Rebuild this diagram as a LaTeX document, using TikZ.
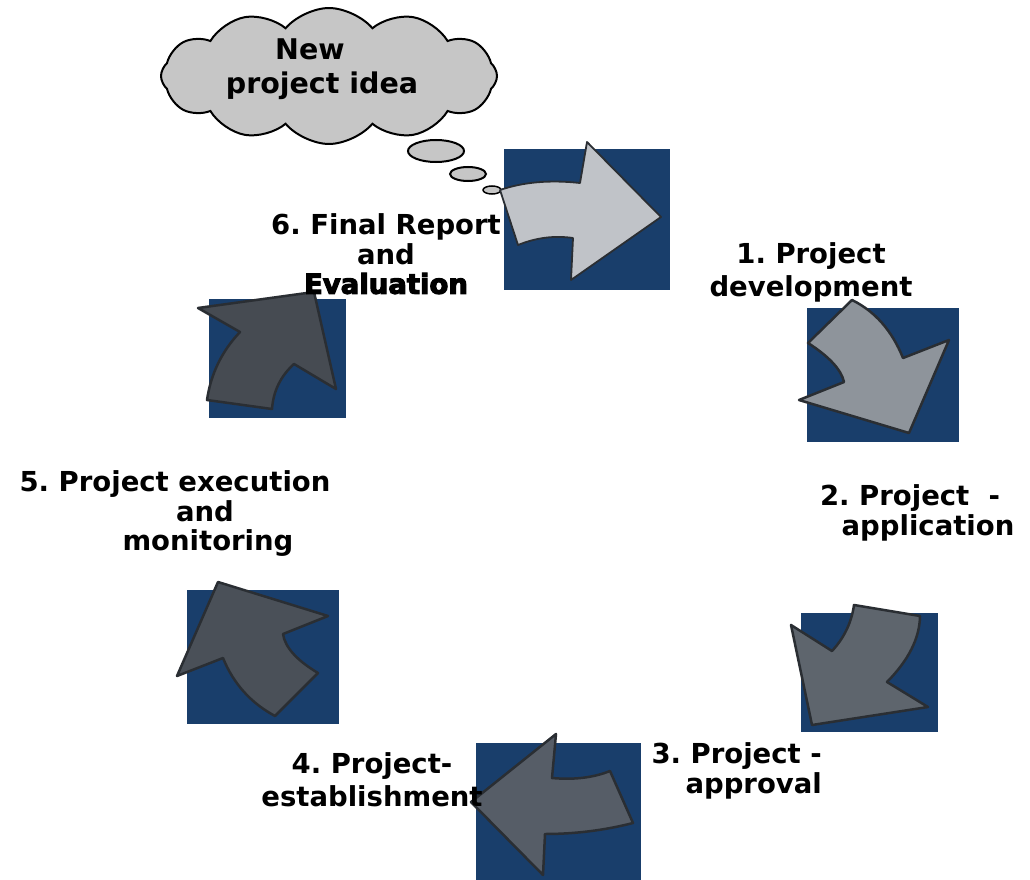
\documentclass[tikz,border=0pt]{standalone}
\usepackage{fontspec}
\setmainfont{DejaVu Sans}
\newfontfamily\smearfont[FakeBold=4]{DejaVu Sans Bold}
\usepackage{tikz}
\usetikzlibrary{shapes.symbols,positioning}

\definecolor{tileblue}{RGB}{25,62,107}
\definecolor{arrowedge}{RGB}{42,46,51}
\definecolor{cloudgray}{RGB}{198,198,198}
\definecolor{arrowA}{RGB}{192,195,200}
\definecolor{arrowB}{RGB}{142,148,155}
\definecolor{arrowC}{RGB}{94,101,109}
\definecolor{arrowD}{RGB}{86,93,103}
\definecolor{arrowE}{RGB}{74,80,88}
\definecolor{arrowF}{RGB}{70,75,82}

\begin{document}
\frenchspacing
\begin{tikzpicture}[
    x=1pt, y=-1pt,
    tile/.style={fill=tileblue},
    bigarrow/.style={draw=arrowedge, line width=2.5pt, line join=round},
    bubble/.style={draw=black, fill=cloudgray, line width=2pt},
    steplabel/.style={font=\bfseries\fontsize{27.5}{29.5}\selectfont, align=center, inner sep=0pt}
]
    \path[fill=white] (0,0) rectangle (1030,880);
    \useasboundingbox (0,0) rectangle (1030,880);

    \fill[tile] (504,149) rectangle (670,290);
    \fill[tile] (807,308) rectangle (959,442);
    \fill[tile] (801,613) rectangle (938,732);
    \fill[tile] (476,743) rectangle (641,880);
    \fill[tile] (187,590) rectangle (339,724);
    \fill[tile] (209,299) rectangle (346,418);

    \node[bubble, cloud, cloud puffs=12, cloud puff arc=100, aspect=2.6,
          minimum width=336pt, minimum height=136pt, inner sep=0pt] (idea) at (329,76) {};
    \node[steplabel, font=\bfseries\fontsize{28.5}{34}\selectfont] (ideatext) at (322,69) {New\hspace*{24pt}\\project idea};
    \draw[bubble] (436,151) ellipse [x radius=28, y radius=11];
    \draw[bubble] (468,174) ellipse [x radius=18, y radius=7];
    \draw[bubble, line width=1.5pt] (492,190) ellipse [x radius=9, y radius=4];

    \filldraw[bigarrow, fill=arrowA, line width=1.8pt] (500,190) .. controls (523.3,182) and (550,179.7) .. (580,183) -- (587,142) -- (661,217) -- (571,280) -- (573,238) .. controls (554.3,235.3) and (536,237.7) .. (518,245) -- cycle;
    \filldraw[bigarrow, fill=arrowB] (808,343) -- (852,300) .. controls (875,311.3) and (892,330.7) .. (903,358) -- (949,340) -- (909,433) -- (799,400) -- (844,382) .. controls (841.3,369.7) and (829.3,356.7) .. (808,343) -- cycle;
    \filldraw[bigarrow, fill=arrowC] (854,605) -- (920,616) .. controls (919.7,638) and (908.7,660) .. (887,682) -- (928,707) -- (812,725) -- (791,625) -- (832,651) .. controls (844.1,637.9) and (851.5,622.6) .. (854,605) -- cycle;
    \filldraw[bigarrow, fill=arrowD] (610,771) -- (633,823) .. controls (604.3,830.3) and (575,834) .. (545,834) -- (543,875) -- (471,802) -- (556,734) -- (552,778) .. controls (574,780) and (593.3,777.7) .. (610,771) -- cycle;
    \filldraw[bigarrow, fill=arrowE] (218,582) -- (328,616) -- (283,634) .. controls (285,647.3) and (296.7,660.3) .. (318,673) -- (275,716) .. controls (250.7,702.9) and (233.4,683.6) .. (223,658) -- (177,676) -- cycle;
    \filldraw[bigarrow, fill=arrowF] (198,308) -- (314,292) -- (336,389) -- (294,364) .. controls (280.7,376) and (273.3,391) .. (272,409) -- (207,400) .. controls (210.8,373.9) and (221.8,351.2) .. (240,332) -- cycle;

    \node[steplabel] (final) at (386,254) {6. Final Report\\and\\{\smearfont Evaluation}};
    \node[steplabel, font=\bfseries\fontsize{27.5}{33}\selectfont] (develop) at (811,272) {1. Project\\development};
    \node[steplabel] (apply) at (910,513) {2. Project\ \ -\\\hspace*{36pt}application};
    \node[steplabel, align=right, anchor=east] (approve) at (822,771) {3. Project -\\approval};
    \node[steplabel, font=\bfseries\fontsize{27.5}{33}\selectfont] (establish) at (372,780) {4. Project-\\establishment};
    \node[steplabel] (execute) at (175,514) {5. Project execution\\\hspace*{60pt}and\\\hspace*{66pt}monitoring};
\end{tikzpicture}
\end{document}
